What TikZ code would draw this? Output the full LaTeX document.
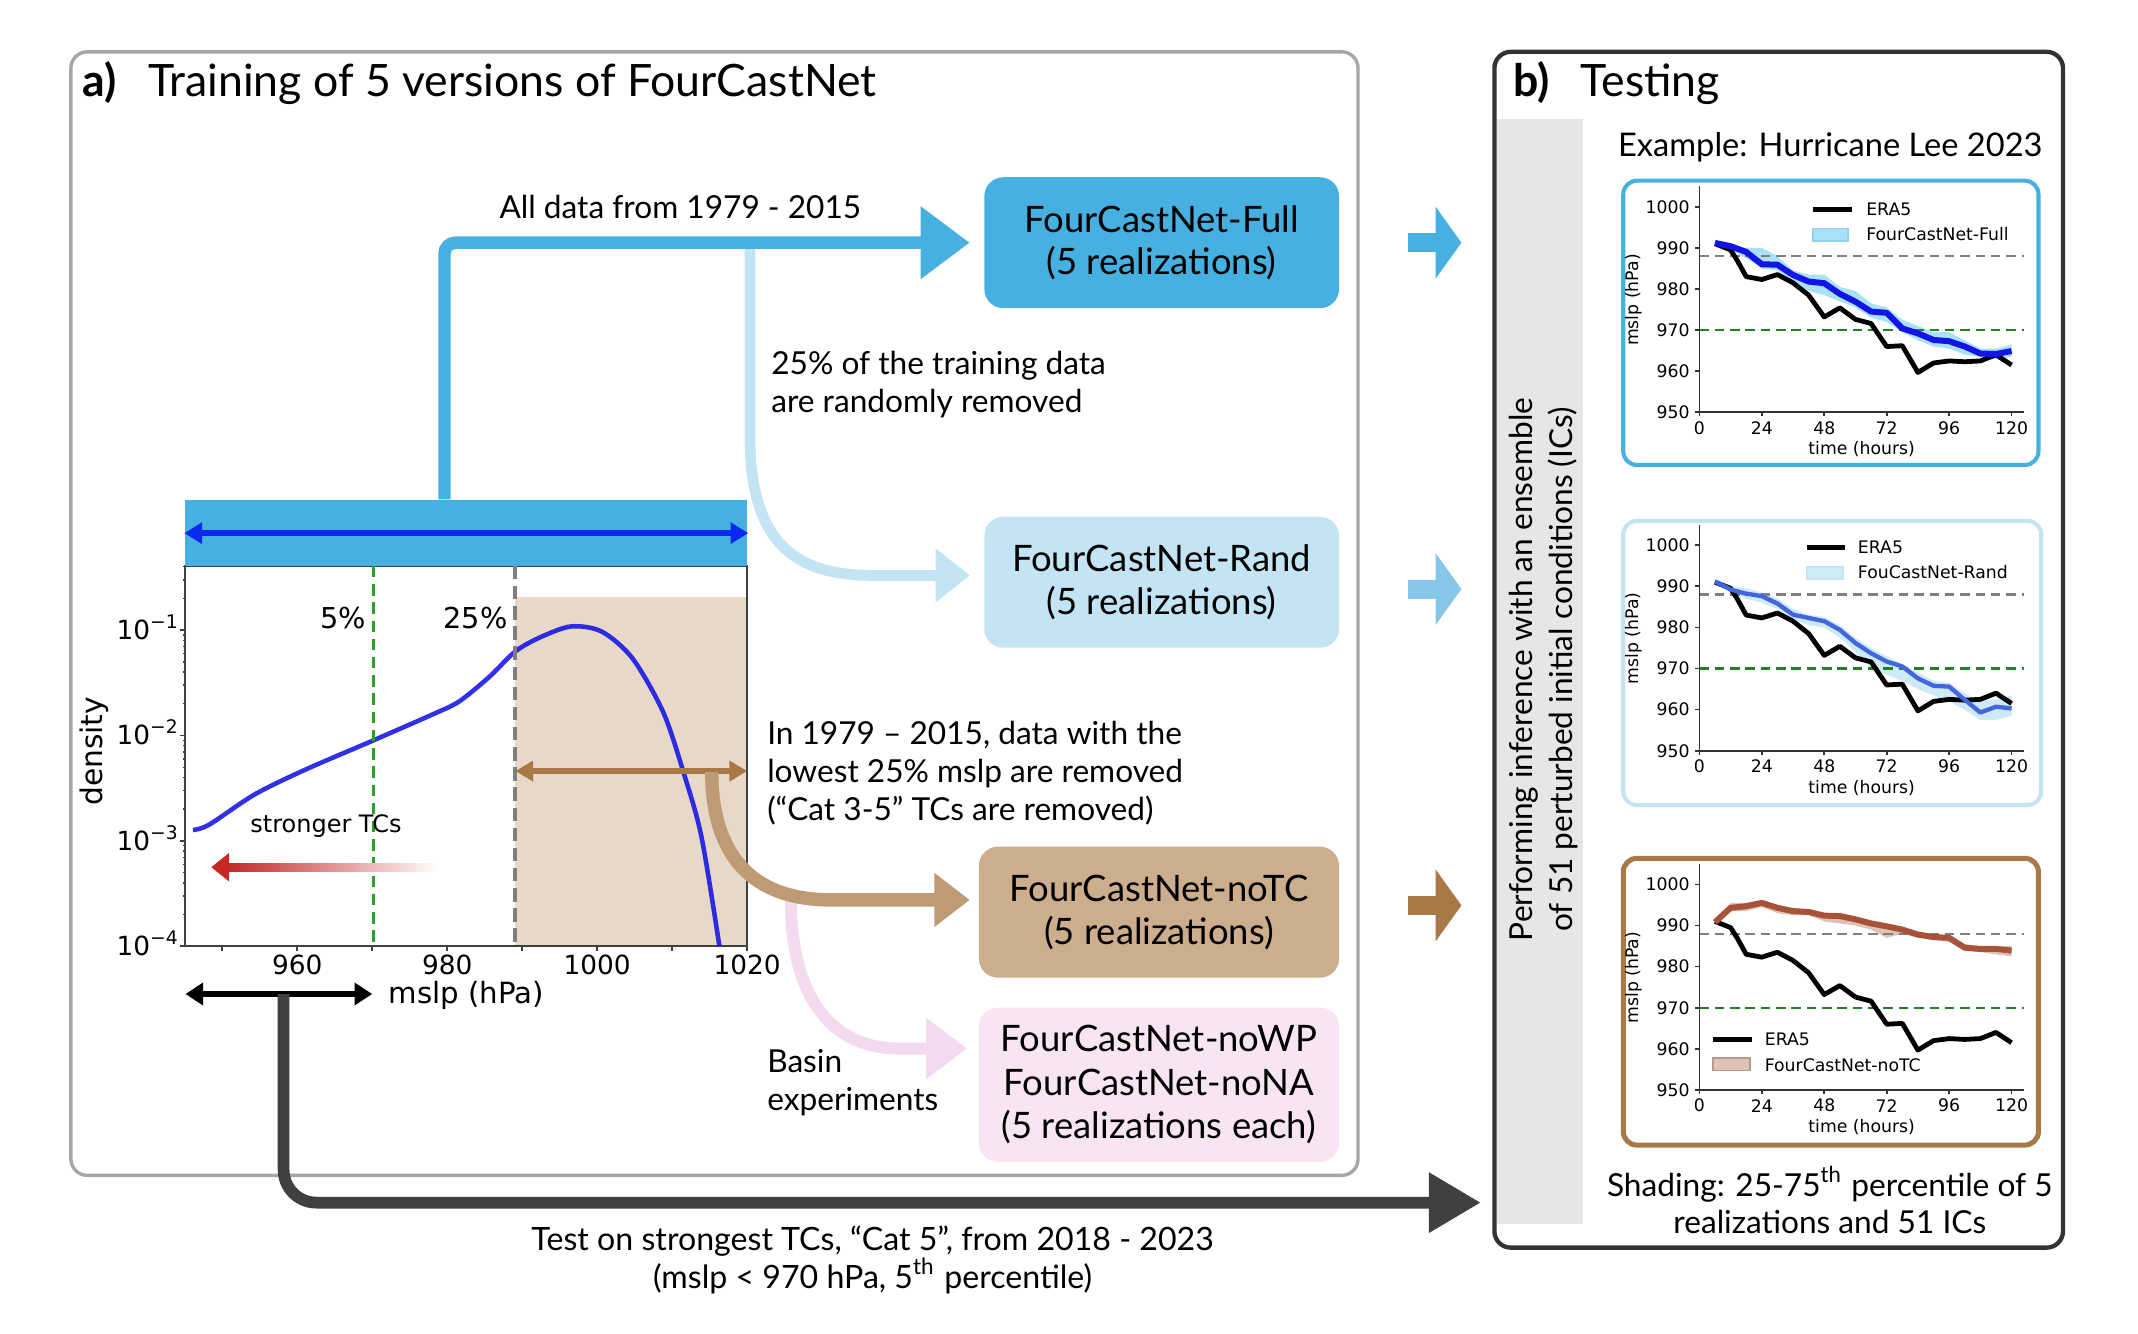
\documentclass[tikz,border=0pt]{standalone}
\usepackage{fontspec}
\setmainfont{Lato}
\newfontfamily\mplfont{DejaVu Sans}
\usetikzlibrary{arrows.meta}

\definecolor{fullc}{HTML}{46B0E0}
\definecolor{randc}{HTML}{C3E4F3}
\definecolor{randarr}{HTML}{86C6E8}
\definecolor{notcc}{HTML}{CDAE8C}
\definecolor{notcline}{HTML}{BF9B75}
\definecolor{cutbrown}{HTML}{A87846}
\definecolor{basinc}{HTML}{F7E5F3}
\definecolor{basinline}{HTML}{F3DAEF}
\definecolor{tanc}{HTML}{E8D8C7}
\definecolor{barblue}{HTML}{0A28F0}
\definecolor{pdfblue}{HTML}{1414E6}
\definecolor{tcred}{HTML}{C62828}
\definecolor{greenc}{HTML}{2CA02C}
\definecolor{grayc}{HTML}{7F7F7F}
\definecolor{panela}{HTML}{A6A6A6}
\definecolor{panelb}{HTML}{333333}
\definecolor{bandgray}{HTML}{E6E6E6}
\definecolor{testc}{HTML}{404040}
\definecolor{fullband}{HTML}{A8E1F8}
\definecolor{randband}{HTML}{CDEAF6}
\definecolor{notcband}{HTML}{DFC3B2}
\definecolor{randlinec}{HTML}{4466DD}
\definecolor{notclinec}{HTML}{A9523A}

% superscript decade label of the density axis
\newcommand{\decade}[1]{10\raisebox{2.3pt}{\fontsize{3.9}{4}\selectfont −#1}}

% ERA5 track of Lee (hours, mslp-950)
\newcommand{\eracurve}{(6,41) -- (12,39.5) -- (14.5,37) -- (18,33) -- (24,32.3) -- (30,33.5) -- (36,31.5) -- (42,28.5) -- (48,23.2) -- (54,25.4) -- (60,22.6) -- (66,21.6) -- (72,16) -- (78,16.2) -- (84,9.7) -- (90,12) -- (96,12.5) -- (102,12.3) -- (108,12.5) -- (114,14) -- (120,11.5)}

% axes of one small mslp panel
\newcommand{\leeaxes}{%
	\draw[refdash, grayc] (0,38) -- (124.8,38);
	\draw[refdash, greenc!80!black] (0,20) -- (124.8,20);
	\draw[plotaxis] (0,55) -- (0,0) -- (124.8,0);
	\foreach \q in {0,10,...,50}{
		\pgfmathtruncatemacro\mslpval{950+\q}
		\draw[plotaxis] (0,\q) -- (-1.5,\q);
		\node[ticklab, anchor=east] (ylab\q) at (-3.4,\q) {\mslpval};
	}
	\foreach \hh in {0,24,...,120}{
		\draw[plotaxis] (\hh,0) -- (\hh,-1);
		\node[ticklab] (xlab\hh) at (\hh,-3.8) {\hh};
	}
	\node[ticklab, rotate=90] (ylabel) at (-25.4,27.3) {mslp (hPa)};
	\node[ticklab] (xlabel) at (62.4,-9) {time (hours)};
	\draw[era5line] \eracurve;
}

\begin{document}
\begin{tikzpicture}[x=0.01cm, y=-0.01cm,
	txt/.style={font=\fontsize{6.6}{8}\selectfont, inner sep=0pt},
	runbox/.style={rounded corners=1.4mm, minimum width=2.6cm, minimum height=0.96cm, align=center, inner sep=0pt, font=\fontsize{7.6}{8.9}\selectfont},
	mpl/.style={font=\mplfont\fontsize{5.5}{6}\selectfont, inner sep=0pt},
	ticklab/.style={font=\mplfont\fontsize{3.6}{4}\selectfont, inner sep=0pt},
	axisline/.style={line width=0.4pt, black!75},
	plotaxis/.style={line width=0.35pt, black!80},
	refdash/.style={line width=0.5pt, dash pattern=on 2pt off 1.2pt},
	era5line/.style={line width=1pt, black, line join=round},
	flowline/.style={line width=#1, line cap=butt},
	panelarrow/.style={line width=3.98pt, -{Triangle[length=1.9mm, width=5.2mm]}}]

	\fill[white] (0,0) rectangle (1568,978);
	\useasboundingbox (0,0) rectangle (1568,978);

	% panel frames
	\draw[panela, line width=0.7pt, rounded corners=1.2mm] (52,38) rectangle (996,862);
	\fill[bandgray] (1098,87) rectangle (1161,898);
	\draw[panelb, line width=0.9pt, rounded corners=1.2mm] (1096,38) rectangle (1513,915);

	\node[anchor=base west, inner sep=0pt, font=\fontsize{9.3}{10}\selectfont] (titlea) at (60,71) {\textbf{a)}\hspace{6.5pt}Training of 5 versions of FourCastNet};
	\node[anchor=base west, inner sep=0pt, font=\fontsize{9.3}{10}\selectfont] (titleb) at (1109,71) {\textbf{b)}\hspace{6.5pt}Testing};

	% density of mslp
	\fill[tanc] (378,438) rectangle (548,694);
	\draw[axisline] (136,415) rectangle (548,694);
	\foreach \dec/\ex in {0/4,1/3,2/2,3/1}{
		\pgfmathsetmacro\yy{694-\dec*77.3}
		\draw[axisline] (136,\yy) -- (132,\yy);
		\node[mpl, anchor=base east] (dec\ex) at (131,\yy+6.7) {\decade{\ex}};
	}
	\foreach \dec in {0,1,2}{
		\foreach \k in {2,...,9}{
			\pgfmathsetmacro\yy{694-(\dec+log10(\k))*77.3}
			\draw[axisline, line width=0.3pt] (136,\yy) -- (134,\yy);
		}
	}
	\foreach \k in {2,3,4}{
		\pgfmathsetmacro\yy{694-(3+log10(\k))*77.3}
		\draw[axisline, line width=0.3pt] (136,\yy) -- (134,\yy);
	}
	\foreach \pv in {950,960,...,1020}{
		\pgfmathsetmacro\xx{218+(\pv-960)*5.5}
		\draw[axisline] (\xx,694) -- (\xx,697.5);
	}
	\foreach \pv in {960,980,1000,1020}{
		\pgfmathsetmacro\xx{218+(\pv-960)*5.5}
		\node[mpl] (mslp\pv) at (\xx,708) {\pv};
	}
	\node[mpl, font=\mplfont\fontsize{6.2}{7}\selectfont, rotate=90] (density) at (69,551) {density};
	\node[mpl, font=\mplfont\fontsize{6.1}{7}\selectfont, anchor=west] (mslplab) at (284.5,730) {mslp (hPa)};

	\draw[pdfblue, opacity=0.88, line width=0.95pt, line join=round] plot[smooth, tension=0.5] coordinates {(141.5,608.7) (153.4,604.8) (187,582.5) (224.5,564.2) (273.1,543.3) (318,523.6) (336.8,514.4) (359.3,496) (378,477.7) (396.6,467.2) (419,459.4) (441.5,463.3) (464,483) (486.4,522.3) (501.4,566.8) (514.5,613.9) (527.6,693.8)};

	\draw[greenc, line width=0.65pt, dash pattern=on 2.4pt off 1.4pt] (274,415) -- (274,694);
	\draw[grayc, line width=0.8pt, dash pattern=on 2.8pt off 1.4pt] (378,415) -- (378,694);
	\node[mpl, font=\mplfont\fontsize{6}{7}\selectfont, anchor=base east] (five) at (269,460.6) {5\%};
	\node[mpl, font=\mplfont\fontsize{6}{7}\selectfont, anchor=base east] (quart) at (373,460.6) {25\%};

	\shade[left color=tcred, right color=white] (167,633) rectangle (322,639);
	\fill[tcred] (155,636) -- (168,625.5) -- (168,646.5) -- cycle;
	\node[mpl, font=\mplfont\fontsize{5}{6}\selectfont, anchor=west] (stronger) at (183,606) {stronger TCs};

	\coordinate (cutl) at (378,565.5);
	\coordinate (cutr) at (548,565.5);
	\draw[cutbrown, line width=1.3pt, {Triangle[length=1.3mm, width=1.45mm]}-{Triangle[length=1.3mm, width=1.45mm]}] (cutl) -- (cutr);

	\node[fill=fullc, minimum width=4.12cm, minimum height=0.48cm, inner sep=0pt] (allbar) at (342,391) {};
	\draw[barblue, line width=1.3pt, {Triangle[length=1.3mm, width=1.5mm]}-{Triangle[length=1.3mm, width=1.5mm]}] (allbar.west) -- (allbar.east);

	\coordinate (cat5l) at (136,729);
	\coordinate (cat5r) at (273,729);
	\draw[black, line width=1.15pt, {Triangle[length=1.3mm, width=1.6mm]}-{Triangle[length=1.3mm, width=1.6mm]}] (cat5l) -- (cat5r);

	% the four trained versions
	\node[runbox, fill=fullc] (full) at (852,178) {FourCastNet-Full\\(5 realizations)};
	\node[runbox, fill=randc] (rand) at (852,427) {FourCastNet-Rand\\(5 realizations)};
	\node[runbox, fill=notcc, minimum width=2.64cm] (notc) at (850,669) {FourCastNet-noTC\\(5 realizations)};
	\node[runbox, fill=basinc, minimum width=2.64cm, minimum height=1.13cm, font=\fontsize{7.6}{9.1}\selectfont] (basin) at (850,795.5) {FourCastNet-noWP\\FourCastNet-noNA\\(5 realizations each)};

	\coordinate (tapA) at (326,178);
	\coordinate (randsplit) at (550,180);
	\coordinate (cutsplit) at (522,566);
	\coordinate (basinsplit) at (580,660);

	\draw[randc, flowline=2.25pt, -{Triangle[length=2.5mm, width=3.8mm]}, shorten >=1mm] (randsplit) -- (550,320) .. controls (550,400) and (585,422) .. (640,422) -- ([yshift=0.5mm]rand.west);
	\draw[fullc, flowline=2.6pt, rounded corners=0.8mm, -{Triangle[length=3.6mm, width=5.1mm]}, shorten >=1mm] (allbar.north -| tapA) |- (full.west);
	\draw[basinline, flowline=2.5pt, -{Triangle[length=3mm, width=4.3mm]}, shorten >=0.8mm] (basinsplit) .. controls (580,725) and (605,769) .. (660,769) -- ([yshift=2.65mm]basin.west);
	\draw[notcline, flowline=2.8pt, -{Triangle[length=2.6mm, width=3.8mm]}, shorten >=0.6mm] (cutsplit) .. controls (522,620) and (545,660) .. (610,660) -- ([yshift=0.9mm]notc.west);

	\node[txt, anchor=base] (alldata) at (499,160) {All data from 1979 - 2015};
	\node[txt, anchor=west, align=left] (randtxt) at (565,282) {25\% of the training data\\are randomly removed};
	\node[txt, anchor=west, align=left] (notctxt) at (562,567) {In 1979 – 2015, data with the\\lowest 25\% mslp are removed\\(“Cat 3-5” TCs are removed)};
	\node[txt, anchor=west, align=left] (basintxt) at (562,794) {Basin\\experiments};

	% to the testing panel
	\coordinate (cat5mid) at (208,729);
	\coordinate (testin) at (1086,882);
	\draw[testc, flowline=2.45pt, rounded corners=2.4mm, -{Triangle[length=3.8mm, width=4.2mm]}] (cat5mid) |- (testin);
	\node[txt, align=center, font=\fontsize{6.7}{8}\selectfont] (testtxt) at (640,924) {Test on strongest TCs, “Cat 5”, from 2018 - 2023\\(mslp < 970 hPa, 5\textsuperscript{th} percentile)};

	\draw[panelarrow, fullc] ([xshift=5mm]full.east) -- ++(39,0);
	\draw[panelarrow, randarr] ([xshift=5mm, yshift=-0.5mm]rand.east) -- ++(39,0);
	\draw[panelarrow, cutbrown] ([xshift=5mm, yshift=0.5mm]notc.east) -- ++(39,0);

	% testing panel
	\node[txt, rotate=90, align=center, font=\fontsize{6.6}{8.3}\selectfont] (inference) at (1132,491) {Performing inference with an ensemble\\of 51 perturbed initial conditions (ICs)};
	\node[anchor=base west, inner sep=0pt, font=\fontsize{6.8}{8}\selectfont] (leetitle) at (1186,115) {Example: Hurricane Lee 2023};

	\draw[fullc, line width=0.85pt, rounded corners=1mm] (1190.5,132.5) rectangle (1495,341);
	\draw[randc, line width=0.85pt, rounded corners=1mm] (1190.5,382) rectangle (1497,590.4);
	\draw[cutbrown, line width=1.05pt, rounded corners=1mm] (1190.5,629.5) rectangle (1495,839.8);

	\begin{scope}[shift={(1246.3,302.4)}, xscale=1.9083, yscale=-3.016]
		\fill[fullband] (6,41.5) -- (12,40.6) -- (18,40) -- (24,40) -- (30,38) -- (36,34.5) -- (42,33.5) -- (48,33.5) -- (54,30.5) -- (60,29.5) -- (66,26.5) -- (72,25.5) -- (78,22.5) -- (84,21) -- (90,19.5) -- (96,19.5) -- (102,17.5) -- (108,15.5) -- (114,15.5) -- (120,16.5)
			-- (120,13.5) -- (114,13) -- (108,13.5) -- (102,14) -- (96,15.5) -- (90,16) -- (84,17.5) -- (78,19.5) -- (72,22) -- (66,23) -- (60,25.5) -- (54,27) -- (48,28.5) -- (42,29.5) -- (36,31.5) -- (30,34.5) -- (24,35) -- (18,37.5) -- (12,39.5) -- (6,40.8) -- cycle;
		\leeaxes
		\draw[pdfblue, line width=1.25pt, line join=round] plot coordinates {(6,41.2) (12,40.4) (18,39) (24,36) (30,35.9) (36,33.4) (42,31.8) (48,31.4) (54,28.8) (60,26.9) (66,24.5) (72,24.2) (78,20.4) (84,19.2) (90,17.6) (96,17.3) (102,16) (108,14.3) (114,14.2) (120,14.9)};
		\draw[era5line] (43.6,49.4) -- (58.6,49.4);
		\node[ticklab, anchor=west] (legera) at (63.8,49.4) {ERA5};
		\draw[fill=fullband, draw=fullc!60, line width=0.3pt] (43.6,41.7) rectangle (57.2,44.7);
		\node[ticklab, anchor=west] (legfull) at (63.8,43.4) {FourCastNet-Full};
	\end{scope}

	\begin{scope}[shift={(1246.3,550.6)}, xscale=1.9083, yscale=-3.016]
		\fill[randband] (6,41.5) -- (12,40) -- (18,39.5) -- (24,38.5) -- (30,37) -- (36,34.5) -- (42,33) -- (48,32.5) -- (54,30.5) -- (60,27.5) -- (66,25) -- (72,23) -- (78,21) -- (84,19) -- (90,17) -- (96,16.5) -- (102,14) -- (108,12) -- (114,12.5) -- (120,13.5)
			-- (120,8.5) -- (114,7.5) -- (108,7.5) -- (102,10) -- (96,12) -- (90,13.5) -- (84,15) -- (78,17) -- (72,18.5) -- (66,20) -- (60,24) -- (54,27.5) -- (48,30) -- (42,30.5) -- (36,32) -- (30,34.5) -- (24,36) -- (18,37) -- (12,38.5) -- (6,40.8) -- cycle;
		\leeaxes
		\draw[randlinec, line width=0.9pt, line join=round] plot coordinates {(6,41.2) (12,39.2) (18,38.2) (24,37.6) (30,35.8) (36,33.1) (42,32.3) (48,31.5) (54,29.4) (60,26.2) (66,23.7) (72,21.7) (78,20.5) (84,17.6) (90,15.8) (96,15.6) (102,12.4) (108,9.3) (114,10.7) (120,10.3)};
		\draw[era5line] (41.4,49.4) -- (55.8,49.4);
		\node[ticklab, anchor=west] (legera) at (60.6,49.4) {ERA5};
		\draw[fill=randband, draw=randc, line width=0.3pt] (41.4,41.7) rectangle (55.2,44.7);
		\node[ticklab, anchor=west] (legrand) at (60.6,43.4) {FouCastNet-Rand};
	\end{scope}

	\begin{scope}[shift={(1246.3,799.4)}, xscale=1.9083, yscale=-3.016]
		\fill[notcband] (6,41) -- (12,45.5) -- (18,45.5) -- (24,46) -- (30,44.8) -- (36,44) -- (42,43.8) -- (48,43) -- (54,43) -- (60,42) -- (66,41) -- (72,40.3) -- (78,39.5) -- (84,38.3) -- (90,37.7) -- (96,37.5) -- (102,35.5) -- (108,35) -- (114,35) -- (120,35)
			-- (120,32.5) -- (114,33) -- (108,33.5) -- (102,34) -- (96,36) -- (90,36.5) -- (84,37) -- (78,38) -- (72,37) -- (66,39) -- (60,40) -- (54,40.5) -- (48,41) -- (42,42.5) -- (36,42.5) -- (30,43) -- (24,44.5) -- (18,43.5) -- (12,43.5) -- (6,40.5) -- cycle;
		\leeaxes
		\draw[notclinec, line width=1.25pt, line join=round] plot coordinates {(6,40.8) (12,44.3) (18,44.7) (24,45.5) (30,44.3) (36,43.5) (42,43.3) (48,42.4) (54,42.3) (60,41.5) (66,40.5) (72,39.8) (78,39) (84,37.8) (90,37.2) (96,37) (102,34.6) (108,34.3) (114,34.3) (120,33.9)};
		\draw[era5line] (5.3,12.3) -- (20.1,12.3);
		\node[ticklab, anchor=west] (legera) at (24.8,12.3) {ERA5};
		\draw[fill=notcband, draw=notcband!80!black, line width=0.3pt] (5.3,4.8) rectangle (19.5,7.8);
		\node[ticklab, anchor=west] (legnotc) at (24.8,6.1) {FourCastNet-noTC};
	\end{scope}

	\node[txt, align=center, font=\fontsize{6.6}{7.7}\selectfont] (shading) at (1342,880) {Shading: 25-75\textsuperscript{th} percentile of 5\\realizations and 51 ICs};
\end{tikzpicture}
\end{document}
